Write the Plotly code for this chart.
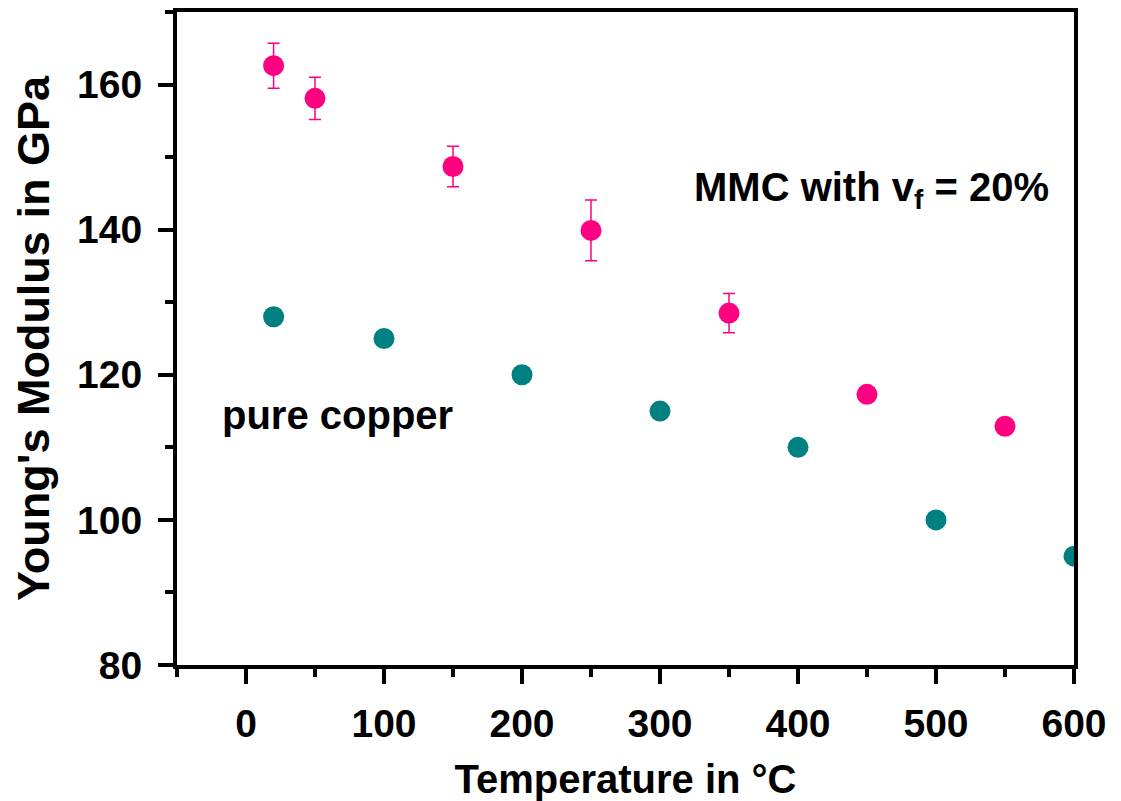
import plotly.graph_objects as go

# Data
mmc_temp = [20, 50, 150, 250, 350, 450, 550]
mmc_modulus = [162.6, 158.1, 148.7, 139.9, 128.5, 117.3, 112.9]
mmc_err = [3.1, 2.9, 2.8, 4.2, 2.7, 0, 0]

cu_temp = [20, 100, 200, 300, 400, 500, 600]
cu_modulus = [128.0, 125.0, 120.0, 115.0, 110.0, 100.0, 95.0]

x_ticks = [0, 100, 200, 300, 400, 500, 600]
y_ticks = [80, 100, 120, 140, 160]

FONT = "Liberation Sans, Arial, sans-serif"
PINK = "#FF0080"
TEAL = "#008080"

fig = go.Figure()

fig.add_trace(go.Scatter(
    x=cu_temp, y=cu_modulus, mode="markers",
    marker=dict(color=TEAL, size=21, line=dict(width=0)),
    showlegend=False,
))

fig.add_trace(go.Scatter(
    x=mmc_temp, y=mmc_modulus, mode="markers",
    marker=dict(color=PINK, size=21, line=dict(width=0)),
    error_y=dict(type="data", array=mmc_err, visible=True,
                 color=PINK, thickness=1.5, width=6),
    showlegend=False,
))

axis_common = dict(
    showline=True, linewidth=4, linecolor="black", mirror=True,
    ticks="outside", ticklen=15, tickwidth=4, tickcolor="black",
    showgrid=False, zeroline=False,
    tickfont=dict(family=FONT, size=39, color="black", weight="bold"),
)

fig.update_xaxes(
    range=[-50, 600], tickvals=x_ticks,
    minor=dict(ticks="outside", ticklen=8, tickwidth=4, tickcolor="black", dtick=50, tick0=0),
    title=dict(text="Temperature in °C", font=dict(family=FONT, size=40, color="black", weight="bold"), standoff=22),
    ticklabelstandoff=6,
    **axis_common,
)
fig.update_yaxes(
    range=[80, 170], tickvals=y_ticks,
    minor=dict(ticks="outside", ticklen=8, tickwidth=4, tickcolor="black", dtick=10, tick0=80),
    title=dict(text="Young's Modulus in GPa", font=dict(family=FONT, size=45, color="black", weight="bold"), standoff=18),
    ticklabelstandoff=8,
    **axis_common,
)

fig.add_annotation(
    x=323, y=145.5, xref="x", yref="y", xanchor="left", yanchor="middle",
    text="MMC with v<sub>f</sub> = 20%", showarrow=False,
    font=dict(family=FONT, size=40, color="black", weight="bold"),
)
fig.add_annotation(
    x=-19, y=114.5, xref="x", yref="y", xanchor="left", yanchor="middle",
    text="pure copper", showarrow=False,
    font=dict(family=FONT, size=40, color="black", weight="bold"),
)

fig.update_layout(
    width=1121, height=801,
    margin=dict(l=169, r=55, t=4, b=144, autoexpand=False),
    paper_bgcolor="white", plot_bgcolor="white",
)

fig.write_html("out.html")
